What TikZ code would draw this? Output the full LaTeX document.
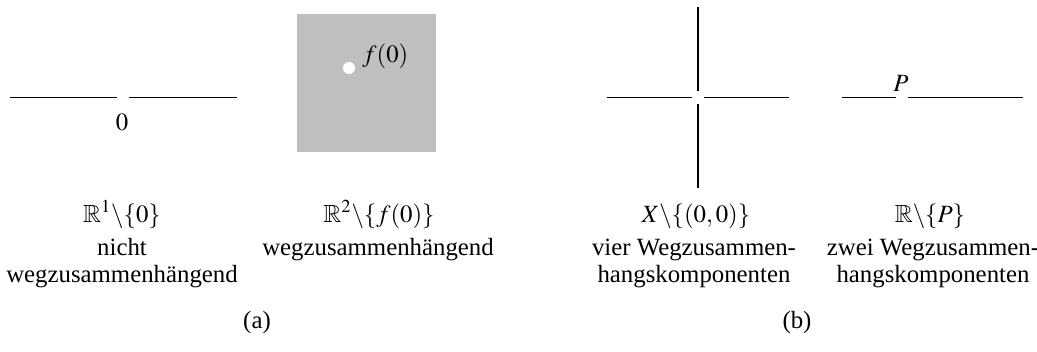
\documentclass[tikz,border=0pt]{standalone}
\usepackage{amssymb}
\usepackage{mathptmx}
\usepackage{fontspec}
\setmainfont{Liberation Serif}
\begin{document}
\begin{tikzpicture}[x=0.5pt,y=-0.5pt,
  seg/.style={line width=0.6pt,black},
  lbl/.style={anchor=base,inner sep=0pt,font=\fontsize{12.4}{14}\selectfont},
  pt/.style={inner sep=0pt,font=\fontsize{12.4}{14}\selectfont}]
\useasboundingbox (0,0) rectangle (1037,352);
\definecolor{sq}{RGB}{191,191,191}
% (a) left: real line minus 0
\coordinate (a1) at (10,97.3); \coordinate (a2) at (117,97.3);
\coordinate (a3) at (129,97.3); \coordinate (a4) at (237,97.3);
\draw[seg] (a1) -- (a2);
\draw[seg] (a3) -- (a4);
\node[pt] (zero) at (122,122) {$0$};
% (a) right: plane minus f(0)
\fill[sq] (297,14) rectangle (436,152);
\fill[white] (349,68) circle (6);
\node[pt,anchor=base west] (f0) at (362,63) {$f(0)$};
% (b) left: cross
\coordinate (cu1) at (698,7); \coordinate (cu2) at (698,91);
\coordinate (cd1) at (698,104); \coordinate (cd2) at (698,188);
\coordinate (cl1) at (607,97.5); \coordinate (cl2) at (692,97.5);
\coordinate (cr1) at (704,97.5); \coordinate (cr2) at (789,97.5);
\draw[seg] (cu1) -- (cu2);
\draw[seg] (cd1) -- (cd2);
\draw[seg] (cl1) -- (cl2);
\draw[seg] (cr1) -- (cr2);
% (b) right: line minus P
\coordinate (p1) at (842,97.3); \coordinate (p2) at (896,97.3);
\coordinate (p3) at (908,97.3); \coordinate (p4) at (1023,97.3);
\draw[seg] (p1) -- (p2);
\draw[seg] (p3) -- (p4);
\node[pt] (P) at (901,83) {$P$};
% labels
\node[lbl] (l1) at (122,222) {$\mathbb{R}^1\backslash\{0\}$};
\node[lbl] (l1a) at (122,255) {nicht};
\node[lbl] (l1b) at (122,282) {wegzusammenhängend};
\node[lbl] (l2) at (379,222) {$\mathbb{R}^2\backslash\{f(0)\}$};
\node[lbl] (l2a) at (378,255) {wegzusammenhängend};
\node[lbl] (l3) at (696,222) {$X\backslash\{(0,0)\}$};
\node[lbl] (l3a) at (694,255) {vier Wegzusammen-};
\node[lbl] (l3b) at (694,282) {hangskomponenten};
\node[lbl] (l4) at (930,222) {$\mathbb{R}\backslash\{P\}$};
\node[lbl] (l4a) at (933,255) {zwei Wegzusammen-};
\node[lbl] (l4b) at (933,282) {hangskomponenten};
\node[lbl] (ca) at (257,328) {(a)};
\node[lbl] (cb) at (797,328) {(b)};
\end{tikzpicture}
\end{document}
